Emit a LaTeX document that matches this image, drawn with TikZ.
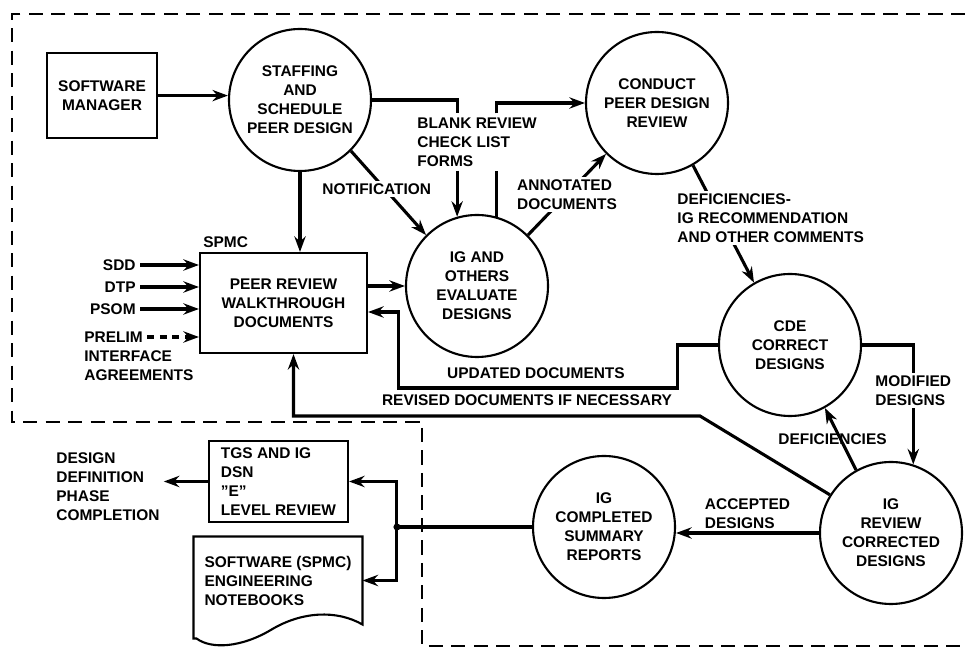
\documentclass[tikz,border=0pt]{standalone}
\usepackage{fontspec}
\setmainfont{Liberation Sans}
\usetikzlibrary{calc, positioning, arrows.meta}

\begin{document}
\begin{tikzpicture}[
  font=\fontsize{11}{13.5}\selectfont\bfseries,
  >={Stealth[length=11pt,width=8pt]}, line width=2.2pt,
  proc/.style={draw, circle, line width=1.5pt, minimum size=3.55cm, inner sep=0pt, align=center},
  box/.style={draw, rectangle, line width=1.5pt, align=center},
  lbl/.style={align=left, inner sep=2pt},
  border/.style={line width=2pt, dash pattern=on 10pt off 6pt},
]
\useasboundingbox (0,0) rectangle (24.125,-16.35);

% --- Boundary ----------------------------------------------------
\draw[border] (24.125,-0.35) -- (0.3,-0.35) -- (0.3,-10.55) -- (10.55,-10.55)
  -- (10.55,-16.15) -- (24.125,-16.15);

% --- Processes ---------------------------------------------------
\node[box, minimum width=2.75cm, minimum height=2.125cm] (sm) at (2.55,-2.39) {SOFTWARE\\MANAGER};
\node[proc] (staff) at (7.5,-2.5) {STAFFING\\AND\\SCHEDULE\\PEER DESIGN};
\node[proc] (conduct) at (16.425,-2.575) {CONDUCT\\PEER DESIGN\\REVIEW};
\node[proc] (igeval) at (11.925,-7.15) {IG AND\\OTHERS\\EVALUATE\\DESIGNS};
\node[proc] (cde) at (19.75,-8.625) {CDE\\CORRECT\\DESIGNS};
\node[proc] (igrev) at (22.275,-13.325) {IG\\REVIEW\\CORRECTED\\DESIGNS};
\node[proc] (igcomp) at (15.1,-13.175) {IG\\COMPLETED\\SUMMARY\\REPORTS};

\node[box, minimum width=4.175cm, minimum height=2.5cm] (peer) at (7.0875,-7.575) {PEER REVIEW\\WALKTHROUGH\\DOCUMENTS};
\node[lbl, anchor=south west] (spmc) at (peer.north west) {SPMC};

\node[box, align=left, minimum width=3.475cm, minimum height=2.025cm] (tgs) at (6.9625,-12.0375) {TGS AND IG\\DSN\\\symbol{34}E\symbol{34}\\LEVEL REVIEW};
\node[lbl, minimum width=4.15cm, minimum height=2.125cm] (notes) at (6.95,-14.5125) {SOFTWARE (SPMC)\\ENGINEERING\\NOTEBOOKS};
\draw[line width=1.5pt] (notes.south west) ++(0,-0.35) |- (notes.north east) -- (notes.south east)
  .. controls +(-0.65,0.375) and +(0.75,0.45) .. ++(-2.275,-0.125)
  .. controls +(-0.75,-0.45) and +(0.375,-0.275) .. ++(-1.875,-0.225) -- cycle;

% --- Inputs and outputs -----------------------------------------
\node[lbl, anchor=east] (sdd) at (3.5,-6.625) {SDD};
\node[lbl, anchor=east] (dtp) at (3.5,-7.175) {DTP};
\node[lbl, anchor=east] (psom) at (3.5,-7.725) {PSOM};
\node[lbl, anchor=west] (prelim) at (2.0,-8.425) {PRELIM};
\node[lbl, anchor=north west] (ifc) at (prelim.south west) {INTERFACE\\AGREEMENTS};
\node[lbl, anchor=west] (ddpc) at (1.3,-12.16) {DESIGN\\DEFINITION\\PHASE\\COMPLETION};

\node[lbl, anchor=west] (blank) at (10.325,-3.55) {BLANK REVIEW\\CHECK LIST\\FORMS};
\node[lbl] (upd) at (13.4,-9.325) {UPDATED DOCUMENTS};
\node[lbl] (rev) at (13.175,-10.0) {REVISED DOCUMENTS IF NECESSARY};

% --- Flows -------------------------------------------------------
\foreach \n in {sdd, dtp, psom} {
  \draw[->] (\n.east) -- (\n.east -| peer.west);
}
\draw[->, dash pattern=on 5pt off 4pt] (prelim.east) -- (prelim.east -| peer.west);

\draw[->] (sm.east) -- (sm.east -| staff.west);
\draw[->] (staff.south) -- (staff.south |- peer.north);
\draw[->] (staff.-45) -- node[lbl, fill=white, pos=0.45, xshift=-0.2cm] (notif) {NOTIFICATION} (igeval.135);
\draw (staff.east) -| (blank.north -| igeval.106);
\draw[->] (blank.south -| igeval.106) -- (igeval.106);
\draw (igeval.74) -- (igeval.74 |- blank.south);
\draw[->] (igeval.74 |- blank.north) |- (conduct.west);
\draw[->] (igeval.45) -- node[lbl, fill=white] (annot) {ANNOTATED\\DOCUMENTS} (conduct.225);
\draw[->] (conduct.-60) -- node[lbl, fill=white, xshift=1.18cm, yshift=0.15cm] (recom)
  {DEFICIENCIES-\\IG RECOMMENDATION\\AND OTHER COMMENTS} (cde.120);
\draw[->] (peer.east |- igeval.west) -- (igeval.west);

% updated / revised documents back to the walkthrough
\draw[->] (cde.west) -- ++(-1,0) |- ($(peer.east)+(0.75,-2.125)$) |- ($(peer.east)+(0,-0.225)$);
\coordinate (bend) at (17.5,-10.4);
\draw[->] (igrev.148) -- (bend) -| ($(peer.south)+(0.25,0)$);

\draw[->] (cde.east) -| node[lbl, fill=white, pos=0.69] (modif) {MODIFIED\\DESIGNS} (igrev.72);
\draw[->] (igrev.119) -- node[lbl, xshift=-0.2cm] (defic) {DEFICIENCIES} (cde.-61);
\draw[->] (igrev.west) -- node[lbl, above] (accept) {ACCEPTED\\DESIGNS} (igrev.west -| igcomp.east);

% summary reports out
\coordinate (junc) at ($(igcomp.west)+(-3.375,0)$);
\draw (igcomp.west) -- (junc);
\fill (junc) circle (2.5pt);
\draw[->] (junc) |- (tgs.east);
\draw[->] (junc) |- (notes.east);
\draw[->] (tgs.west) -- (tgs.west -| ddpc.east);
\end{tikzpicture}
\end{document}
